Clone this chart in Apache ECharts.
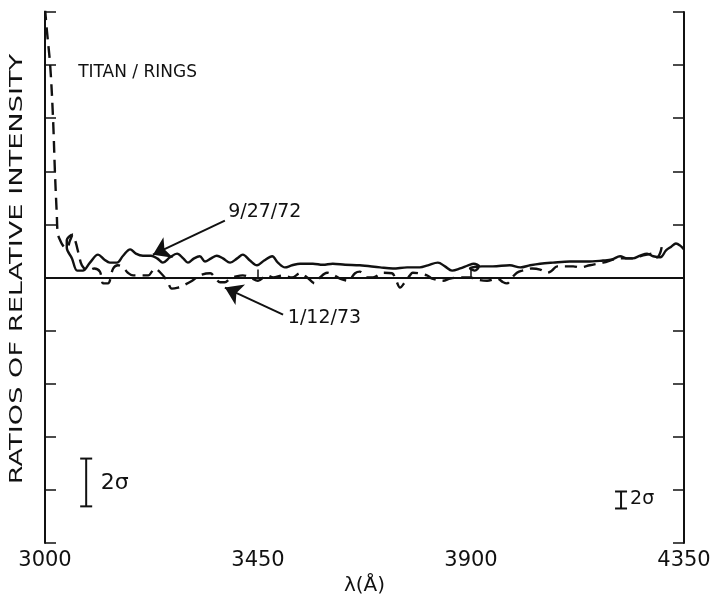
<!DOCTYPE html>
<html><head><meta charset="utf-8">
<script src="https://cdn.jsdelivr.net/npm/echarts@6/dist/echarts.min.js"></script>
<style>html,body{margin:0;padding:0;background:#fff}#c{width:714px;height:603px}</style>
</head><body><div id="c"></div>
<script>
// ---- data ----
const xTickValues = [3000, 3450, 3900, 4350];
const xAxisTitle = 'λ(Å)';
const yAxisTitle = 'RATIOS OF RELATIVE INTENSITY';

// 9/27/72 (solid)
const series0927 = [
 [3057,0.81],[3046,0.70],[3046,0.56],[3057,0.36],[3068,0.13],[3080,0.13],[3095,0.28],[3112,0.43],
 [3125,0.34],[3137,0.28],[3152,0.28],[3165,0.41],[3180,0.53],[3192,0.45],[3207,0.41],[3224,0.41],
 [3237,0.36],[3249,0.28],[3264,0.38],[3279,0.45],[3292,0.36],[3302,0.28],[3315,0.36],[3327,0.40],
 [3338,0.30],[3351,0.36],[3363,0.41],[3376,0.36],[3391,0.28],[3406,0.36],[3418,0.43],[3433,0.32],
 [3448,0.23],[3463,0.32],[3480,0.40],[3492,0.28],[3507,0.19],[3522,0.23],[3539,0.26],[3566,0.26],
 [3587,0.24],[3608,0.26],[3634,0.24],[3665,0.23],[3708,0.19],[3735,0.17],[3765,0.19],[3792,0.19],
 [3809,0.23],[3830,0.28],[3845,0.21],[3860,0.13],[3877,0.17],[3894,0.23],[3906,0.26],[3917,0.21],
 [3908,0.13],[3898,0.17],[3923,0.21],[3946,0.21],[3982,0.23],[4004,0.19],[4025,0.23],[4046,0.26],
 [4073,0.28],[4109,0.30],[4145,0.30],[4179,0.32],[4198,0.34],[4215,0.40],[4230,0.36],[4242,0.36],
 [4257,0.41],[4272,0.45],[4285,0.40],[4300,0.38],[4312,0.51],[4323,0.58],[4333,0.64],[4342,0.60],[4350,0.53]
];
// 1/12/73 (dashed)
const series0112 = [
 [3000,5.07],[3004,4.65],[3011,3.99],[3017,2.99],[3021,1.98],[3025,1.17],[3027,0.83],[3032,0.70],
 [3038,0.60],[3046,0.55],[3053,0.70],[3059,0.81],[3065,0.66],[3072,0.41],[3078,0.23],[3091,0.13],
 [3104,0.17],[3116,0.11],[3123,-0.11],[3133,-0.11],[3144,0.17],[3154,0.23],[3165,0.19],[3175,0.09],
 [3186,0.04],[3201,0.04],[3218,0.04],[3232,0.17],[3245,0.08],[3258,-0.06],[3268,-0.21],[3281,-0.19],
 [3292,-0.15],[3311,-0.06],[3327,0.04],[3349,0.08],[3359,0.00],[3370,-0.09],[3380,-0.09],[3391,-0.02],
 [3404,0.02],[3418,0.04],[3433,0.00],[3450,-0.06],[3469,0.04],[3482,0.00],[3503,0.04],[3522,0.00],
 [3539,0.08],[3554,0.00],[3570,-0.11],[3581,0.00],[3596,0.09],[3611,0.04],[3623,-0.02],[3640,-0.06],
 [3655,0.08],[3665,0.11],[3680,0.00],[3693,0.00],[3714,0.09],[3733,0.08],[3742,-0.06],[3750,-0.19],
 [3761,-0.08],[3771,0.04],[3777,0.09],[3807,0.04],[3818,-0.02],[3841,-0.06],[3856,-0.02],[3877,0.00],
 [3898,0.00],[3913,-0.04],[3934,-0.06],[3955,-0.02],[3968,-0.09],[3976,-0.11],[3987,0.00],[3997,0.09],
 [4008,0.13],[4029,0.17],[4046,0.15],[4061,0.09],[4071,0.13],[4082,0.21],[4116,0.21],[4131,0.19],
 [4151,0.23],[4179,0.28],[4215,0.36],[4242,0.36],[4257,0.40],[4272,0.43],[4285,0.45],[4293,0.38],
 [4300,0.47],[4304,0.64]
];
const baseline = [[3000,0],[4350,0]];
// error bars: [x, low, high]
const errorBars = [[3087,-4.31,-3.41],[4217,-4.35,-4.03]];
// annotation texts anchored in data coordinates: [text, x, y]
const notes = [
 ['TITAN / RINGS', 3070, 3.85],
 ['9/27/72', 3387, 1.23],
 ['1/12/73', 3513, -0.77],
 ['2σ', 3118, -3.88],
 ['2σ', 4236, -4.18]
];
// arrows: [fromX, fromY, toX, toY]
const arrows = [[3380,1.07,3228,0.43],[3503,-0.70,3380,-0.19]];

// ---- chart ----
const INK = '#111';
const FONT = 'DejaVu Sans, Liberation Sans, sans-serif';
const noteSizes = [17, 19, 19, 22, 19];
const chart = echarts.init(document.getElementById('c'), null, {renderer:'canvas'});

const yAxisBase = {
  type:'value', min:-5, max:5, interval:1,
  axisLine:{show:true, lineStyle:{color:INK, width:2}},
  axisTick:{show:true, inside:true, length:11, lineStyle:{color:INK, width:1.5}},
  axisLabel:{show:false}, splitLine:{show:false}
};

chart.setOption({
  animation:false,
  backgroundColor:'#fff',
  grid:{left:45, right:30, top:12, bottom:60, show:false},
  xAxis:[{
    type:'value', min:xTickValues[0], max:xTickValues[xTickValues.length-1],
    interval:xTickValues[1]-xTickValues[0],
    axisLine:{show:true, lineStyle:{color:INK, width:2}},
    axisTick:{show:true, inside:true, length:8, lineStyle:{color:INK, width:1.5}},
    axisLabel:{show:true, margin:7, fontSize:21, fontFamily:FONT, color:INK,
      showMinLabel:true, showMaxLabel:true, formatter:function(v){return String(v);}},
    splitLine:{show:false},
    name:xAxisTitle, nameLocation:'middle', nameGap:33,
    nameTextStyle:{fontSize:20, fontFamily:FONT, color:INK}
  },{
    type:'value', position:'top', min:xTickValues[0], max:xTickValues[xTickValues.length-1],
    axisLine:{show:true, lineStyle:{color:INK, width:1.5}},
    axisTick:{show:false}, axisLabel:{show:false}, splitLine:{show:false}
  }],
  yAxis:[Object.assign({position:'left'}, yAxisBase), Object.assign({position:'right'}, yAxisBase)],
  series:[
    {type:'line', data:baseline, symbol:'none', silent:true,
     lineStyle:{color:INK, width:1.2}},
    {type:'line', name:'9/27/72', data:series0927, symbol:'none', smooth:0.35,
     lineStyle:{color:INK, width:2.4},
     markLine:{silent:true, symbol:['none','arrow'], symbolSize:17, label:{show:false},
       lineStyle:{color:INK, width:2, type:'solid'},
       data: arrows.map(a => [{coord:[a[0],a[1]]},{coord:[a[2],a[3]]}])}
    },
    {type:'line', name:'1/12/73', data:series0112, symbol:'none', smooth:0.35,
     lineStyle:{color:INK, width:2.4, type:[12,7]}},
    {type:'custom', data:errorBars, silent:true,
     renderItem:function(params, api){
       const x = api.value(0), lo = api.value(1), hi = api.value(2);
       const p1 = api.coord([x, lo]), p2 = api.coord([x, hi]);
       const w = 6, st = {stroke:INK, lineWidth:2};
       return {type:'group', children:[
         {type:'line', shape:{x1:p1[0], y1:p1[1], x2:p2[0], y2:p2[1]}, style:st},
         {type:'line', shape:{x1:p1[0]-w, y1:p1[1], x2:p1[0]+w, y2:p1[1]}, style:st},
         {type:'line', shape:{x1:p2[0]-w, y1:p2[1], x2:p2[0]+w, y2:p2[1]}, style:st}
       ]};
     }}
  ]
});

const g = notes.map((n, i) => {
  const p = chart.convertToPixel({gridIndex:0}, [n[1], n[2]]);
  return {type:'text', x:p[0], y:p[1], silent:true,
    style:{text:n[0], fontSize:noteSizes[i], fontFamily:FONT, fill:INK, align:'left', verticalAlign:'middle'}};
});
g.push({type:'text', x:18, y:269, rotation:Math.PI/2, scaleX:1.6, silent:true,
  style:{text:yAxisTitle, fontSize:17, fontFamily:FONT, fill:INK, align:'center', verticalAlign:'middle'}});
chart.setOption({graphic:g});
</script>
</body></html>
